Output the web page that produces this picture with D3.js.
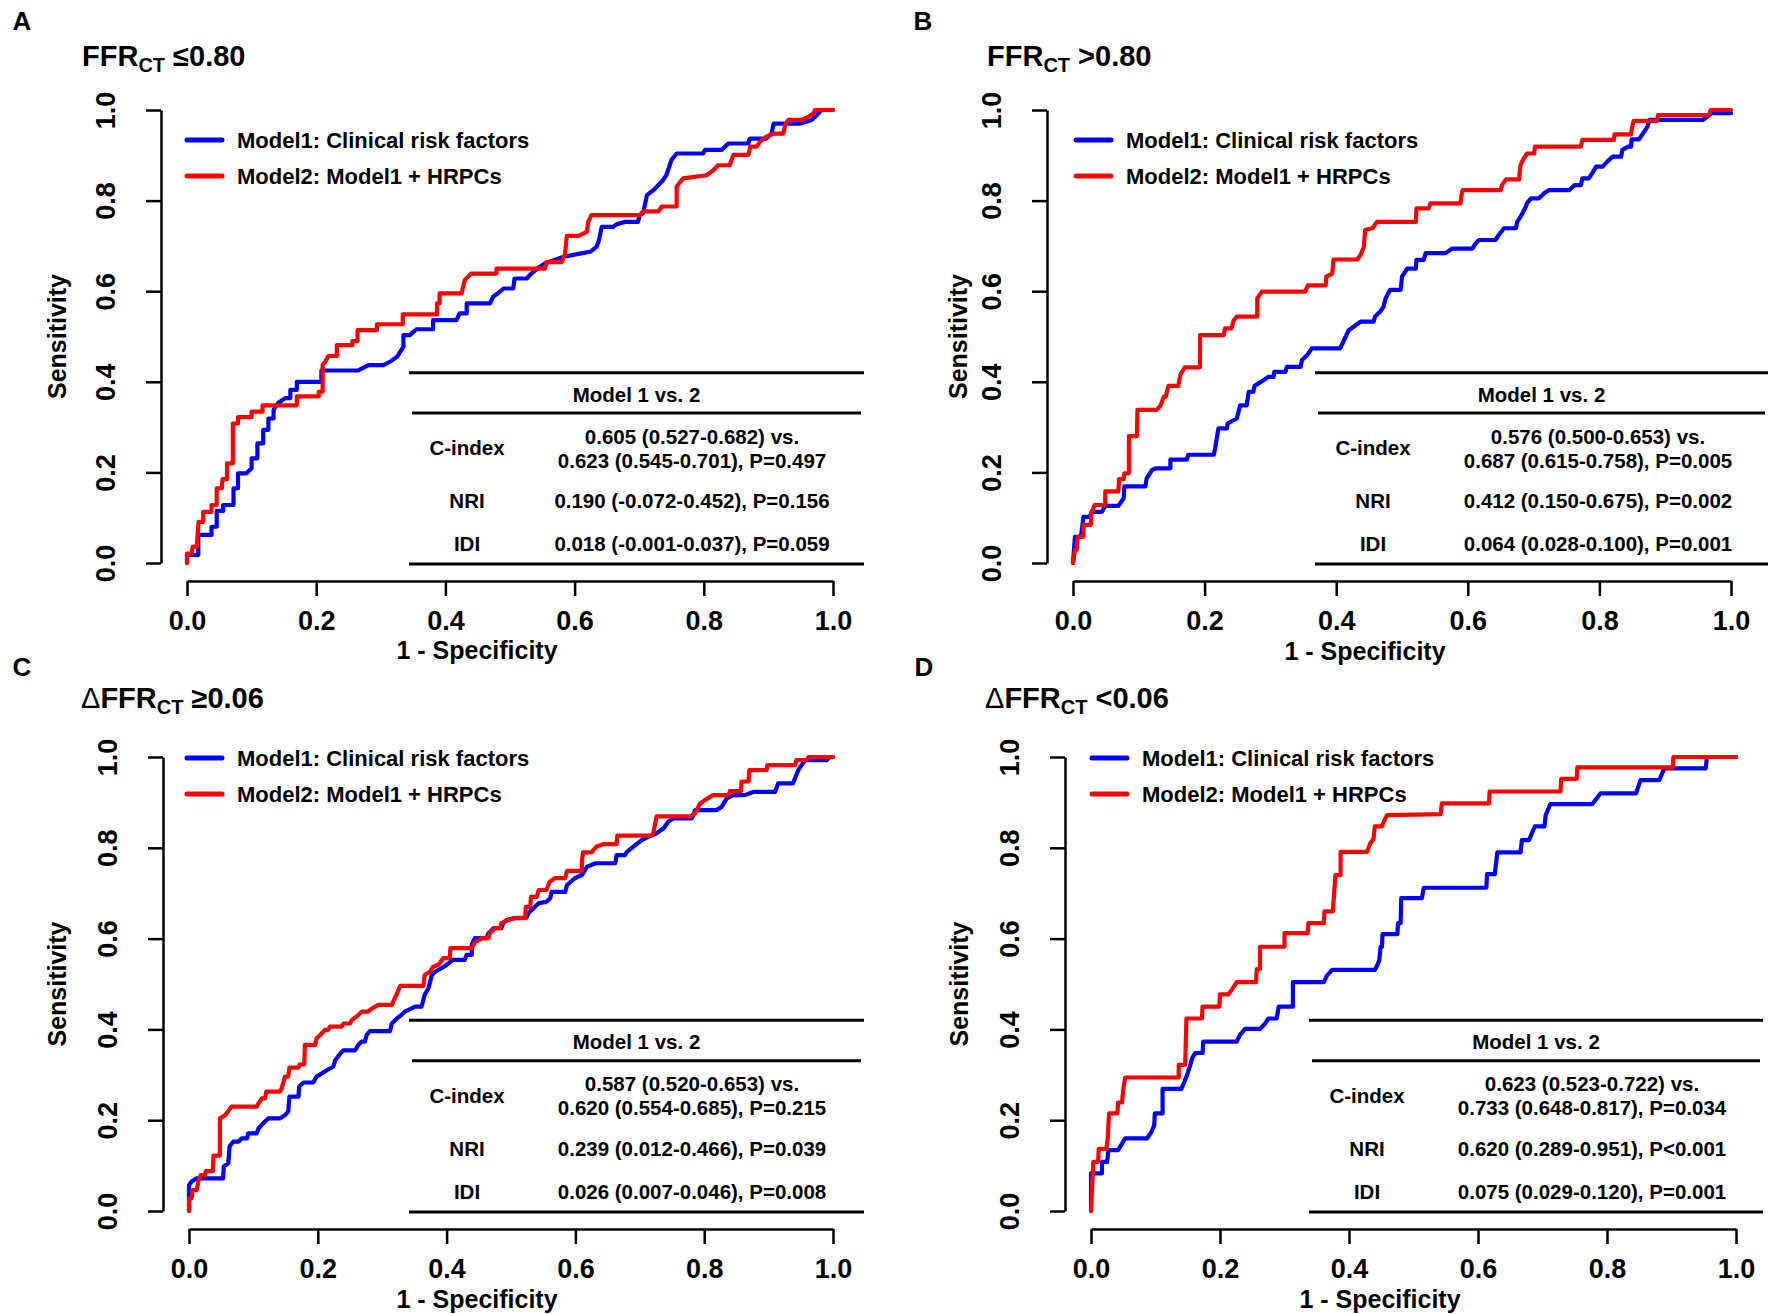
<!DOCTYPE html>
<html>
<head>
<meta charset="utf-8">
<script src="https://cdn.jsdelivr.net/npm/d3@7"></script>
<style>
  body { margin: 0; background: #fff; }
  text { font-family: "Liberation Sans", Arial, sans-serif; font-weight: bold; fill: #000; white-space: pre; }
</style>
</head>
<body>
<svg id="chart" width="1772" height="1314"></svg>
<script>
// axis ticks, shared by every panel
const tickValues = [0, 0.2, 0.4, 0.6, 0.8, 1.0];
const tickLabels = ["0.0", "0.2", "0.4", "0.6", "0.8", "1.0"];

const seriesNames = ["Model1: Clinical risk factors", "Model2: Model1 + HRPCs"];
const seriesColors = ["#0000ff", "#ff0000"];
const rowNames = ["C-index", "NRI", "IDI"];
const tableHeader = "Model 1 vs. 2";

const panelLetters = ["A", "B", "C", "D"];
const titlePrefix = ["", "", "\u0394", "\u0394"];
const titleSuffix = [" \u22640.80", " >0.80", " \u22650.06", " <0.06"];

// table texts: C-index (2 lines), NRI, IDI
const statsA = ["0.605 (0.527-0.682) vs.", "0.623 (0.545-0.701), P=0.497", "0.190 (-0.072-0.452), P=0.156", "0.018 (-0.001-0.037), P=0.059"];
const statsB = ["0.576 (0.500-0.653) vs.", "0.687 (0.615-0.758), P=0.005", "0.412 (0.150-0.675), P=0.002", "0.064 (0.028-0.100), P=0.001"];
const statsC = ["0.587 (0.520-0.653) vs.", "0.620 (0.554-0.685), P=0.215", "0.239 (0.012-0.466), P=0.039", "0.026 (0.007-0.046), P=0.008"];
const statsD = ["0.623 (0.523-0.722) vs.", "0.733 (0.648-0.817), P=0.034", "0.620 (0.289-0.951), P<0.001", "0.075 (0.029-0.120), P=0.001"];

// ROC curves, [1 - specificity, sensitivity]
const rocA1 = [[0,0],[0,0.018],[0.0175,0.018],[0.0175,0.062],[0.038,0.062],[0.038,0.080],[0.046,0.080],[0.046,0.115],[0.056,0.115],[0.056,0.128],[0.072,0.128],[0.072,0.165],[0.079,0.165],[0.079,0.198],[0.092,0.198],[0.100,0.209],[0.100,0.231],[0.109,0.231],[0.109,0.264],[0.118,0.264],[0.118,0.294],[0.126,0.294],[0.126,0.319],[0.134,0.319],[0.134,0.338],[0.141,0.353],[0.152,0.364],[0.160,0.364],[0.160,0.382],[0.170,0.382],[0.170,0.400],[0.208,0.400],[0.208,0.425],[0.265,0.425],[0.281,0.437],[0.304,0.437],[0.314,0.444],[0.325,0.455],[0.335,0.477],[0.335,0.503],[0.345,0.503],[0.355,0.516],[0.381,0.516],[0.381,0.536],[0.417,0.536],[0.422,0.551],[0.433,0.551],[0.433,0.573],[0.469,0.573],[0.474,0.588],[0.482,0.596],[0.490,0.606],[0.505,0.606],[0.507,0.628],[0.526,0.628],[0.533,0.639],[0.546,0.654],[0.554,0.661],[0.583,0.676],[0.608,0.683],[0.624,0.687],[0.634,0.698],[0.637,0.709],[0.642,0.742],[0.660,0.742],[0.665,0.748],[0.678,0.753],[0.698,0.753],[0.701,0.768],[0.706,0.772],[0.712,0.812],[0.722,0.823],[0.737,0.845],[0.742,0.856],[0.750,0.890],[0.758,0.904],[0.799,0.904],[0.802,0.912],[0.828,0.912],[0.838,0.926],[0.869,0.926],[0.871,0.937],[0.897,0.937],[0.905,0.948],[0.908,0.970],[0.949,0.970],[0.967,0.978],[0.975,0.989],[0.982,1.0],[1.0,1.0]];
const rocA2 = [[0,0],[0,0.021],[0.007,0.021],[0.009,0.036],[0.015,0.036],[0.018,0.091],[0.025,0.091],[0.025,0.113],[0.038,0.113],[0.038,0.128],[0.046,0.128],[0.046,0.165],[0.054,0.165],[0.055,0.185],[0.062,0.185],[0.062,0.220],[0.071,0.220],[0.071,0.308],[0.079,0.308],[0.079,0.322],[0.100,0.322],[0.100,0.334],[0.117,0.334],[0.117,0.348],[0.170,0.348],[0.170,0.368],[0.204,0.368],[0.204,0.378],[0.210,0.378],[0.210,0.437],[0.214,0.444],[0.219,0.457],[0.232,0.457],[0.232,0.481],[0.256,0.481],[0.256,0.490],[0.264,0.490],[0.264,0.514],[0.294,0.514],[0.294,0.527],[0.334,0.527],[0.334,0.549],[0.387,0.549],[0.387,0.573],[0.391,0.573],[0.391,0.595],[0.425,0.595],[0.430,0.625],[0.440,0.639],[0.479,0.639],[0.479,0.650],[0.554,0.650],[0.557,0.664],[0.580,0.664],[0.585,0.680],[0.588,0.722],[0.606,0.722],[0.619,0.731],[0.621,0.753],[0.626,0.768],[0.701,0.768],[0.706,0.776],[0.730,0.776],[0.735,0.787],[0.758,0.787],[0.758,0.831],[0.768,0.849],[0.804,0.856],[0.815,0.867],[0.822,0.878],[0.840,0.878],[0.846,0.901],[0.869,0.901],[0.872,0.919],[0.882,0.919],[0.887,0.930],[0.897,0.941],[0.908,0.948],[0.923,0.948],[0.926,0.967],[0.931,0.978],[0.951,0.978],[0.962,0.985],[0.970,0.993],[0.972,1.0],[1.0,1.0]];

const rocB1 = [[0,0],[0.003,0.058],[0.012,0.058],[0.016,0.102],[0.026,0.102],[0.028,0.113],[0.044,0.113],[0.049,0.126],[0.069,0.126],[0.077,0.143],[0.078,0.169],[0.110,0.169],[0.112,0.187],[0.120,0.205],[0.125,0.209],[0.148,0.209],[0.148,0.228],[0.173,0.228],[0.175,0.239],[0.214,0.239],[0.216,0.253],[0.221,0.297],[0.234,0.297],[0.235,0.308],[0.249,0.319],[0.254,0.348],[0.264,0.348],[0.267,0.378],[0.274,0.378],[0.276,0.391],[0.290,0.404],[0.297,0.411],[0.305,0.411],[0.306,0.422],[0.323,0.422],[0.325,0.433],[0.346,0.433],[0.348,0.448],[0.356,0.459],[0.363,0.474],[0.406,0.474],[0.411,0.489],[0.419,0.514],[0.427,0.522],[0.437,0.533],[0.457,0.533],[0.459,0.544],[0.467,0.555],[0.472,0.566],[0.475,0.584],[0.482,0.603],[0.498,0.603],[0.500,0.632],[0.508,0.650],[0.521,0.650],[0.522,0.669],[0.533,0.669],[0.536,0.684],[0.566,0.684],[0.576,0.694],[0.607,0.694],[0.612,0.706],[0.617,0.713],[0.642,0.713],[0.647,0.724],[0.655,0.739],[0.673,0.739],[0.675,0.753],[0.680,0.764],[0.688,0.786],[0.690,0.794],[0.696,0.805],[0.708,0.805],[0.716,0.816],[0.723,0.823],[0.754,0.823],[0.762,0.834],[0.772,0.834],[0.774,0.849],[0.784,0.849],[0.789,0.860],[0.795,0.875],[0.805,0.875],[0.812,0.886],[0.820,0.897],[0.833,0.897],[0.835,0.912],[0.843,0.919],[0.848,0.919],[0.849,0.935],[0.860,0.935],[0.866,0.948],[0.873,0.963],[0.876,0.978],[0.957,0.978],[0.964,0.985],[0.970,0.993],[1.0,0.993]];
const rocB2 = [[0,0],[0.003,0.029],[0.0056,0.029],[0.007,0.058],[0.016,0.058],[0.016,0.084],[0.027,0.084],[0.028,0.110],[0.033,0.128],[0.049,0.128],[0.049,0.158],[0.069,0.158],[0.070,0.185],[0.077,0.185],[0.078,0.198],[0.085,0.198],[0.085,0.280],[0.097,0.280],[0.098,0.338],[0.127,0.338],[0.133,0.347],[0.138,0.367],[0.141,0.367],[0.145,0.391],[0.160,0.391],[0.163,0.415],[0.170,0.432],[0.193,0.432],[0.193,0.503],[0.229,0.503],[0.231,0.518],[0.241,0.518],[0.244,0.535],[0.249,0.544],[0.280,0.544],[0.280,0.584],[0.287,0.599],[0.353,0.599],[0.357,0.613],[0.384,0.613],[0.385,0.632],[0.394,0.639],[0.396,0.670],[0.432,0.670],[0.437,0.680],[0.442,0.698],[0.444,0.735],[0.455,0.739],[0.462,0.753],[0.521,0.753],[0.522,0.783],[0.541,0.783],[0.543,0.794],[0.589,0.794],[0.590,0.809],[0.592,0.823],[0.650,0.823],[0.652,0.834],[0.658,0.847],[0.678,0.847],[0.680,0.878],[0.685,0.893],[0.690,0.904],[0.701,0.904],[0.702,0.919],[0.772,0.919],[0.774,0.934],[0.822,0.934],[0.823,0.946],[0.848,0.946],[0.850,0.963],[0.852,0.976],[0.888,0.976],[0.889,0.989],[0.967,0.989],[0.969,1.0],[1.0,1.0]];

const rocC1 = [[0,0],[0,0.057],[0.004,0.065],[0.012,0.072],[0.053,0.072],[0.054,0.098],[0.061,0.105],[0.063,0.142],[0.069,0.153],[0.077,0.153],[0.082,0.160],[0.090,0.160],[0.092,0.171],[0.105,0.171],[0.108,0.182],[0.115,0.193],[0.123,0.204],[0.141,0.204],[0.149,0.211],[0.154,0.219],[0.156,0.252],[0.170,0.252],[0.171,0.274],[0.178,0.283],[0.193,0.283],[0.198,0.296],[0.206,0.303],[0.214,0.310],[0.224,0.318],[0.227,0.332],[0.235,0.347],[0.240,0.354],[0.258,0.354],[0.263,0.366],[0.268,0.373],[0.273,0.373],[0.276,0.388],[0.281,0.396],[0.312,0.396],[0.315,0.413],[0.322,0.423],[0.330,0.432],[0.335,0.439],[0.341,0.443],[0.351,0.450],[0.361,0.450],[0.366,0.476],[0.372,0.491],[0.377,0.520],[0.382,0.527],[0.390,0.533],[0.400,0.542],[0.410,0.553],[0.428,0.553],[0.431,0.564],[0.439,0.564],[0.439,0.586],[0.444,0.601],[0.462,0.601],[0.465,0.612],[0.473,0.623],[0.485,0.623],[0.488,0.634],[0.493,0.641],[0.504,0.645],[0.524,0.646],[0.527,0.656],[0.535,0.667],[0.543,0.678],[0.555,0.681],[0.561,0.689],[0.563,0.703],[0.584,0.703],[0.587,0.718],[0.599,0.733],[0.610,0.740],[0.618,0.758],[0.631,0.766],[0.662,0.766],[0.664,0.784],[0.677,0.784],[0.680,0.791],[0.693,0.806],[0.703,0.817],[0.713,0.824],[0.726,0.832],[0.737,0.843],[0.744,0.857],[0.752,0.865],[0.781,0.865],[0.786,0.883],[0.819,0.883],[0.827,0.890],[0.835,0.909],[0.845,0.916],[0.863,0.916],[0.876,0.923],[0.910,0.923],[0.915,0.942],[0.938,0.942],[0.941,0.953],[0.946,0.971],[0.951,0.982],[0.957,0.993],[0.990,0.993],[0.995,1.0],[1.0,1.0]];
const rocC2 = [[0,0],[0.0005,0.028],[0.004,0.028],[0.0057,0.046],[0.012,0.046],[0.015,0.068],[0.018,0.079],[0.025,0.079],[0.026,0.088],[0.037,0.088],[0.038,0.122],[0.048,0.122],[0.048,0.204],[0.056,0.211],[0.061,0.220],[0.066,0.230],[0.105,0.230],[0.108,0.237],[0.113,0.248],[0.118,0.248],[0.120,0.263],[0.141,0.263],[0.144,0.270],[0.149,0.296],[0.154,0.296],[0.156,0.316],[0.170,0.316],[0.172,0.323],[0.179,0.323],[0.180,0.366],[0.196,0.366],[0.198,0.380],[0.206,0.391],[0.211,0.399],[0.216,0.399],[0.219,0.406],[0.237,0.406],[0.240,0.413],[0.250,0.413],[0.253,0.421],[0.260,0.428],[0.268,0.439],[0.278,0.439],[0.284,0.446],[0.294,0.454],[0.315,0.454],[0.317,0.461],[0.322,0.476],[0.328,0.496],[0.364,0.496],[0.366,0.520],[0.374,0.527],[0.379,0.538],[0.387,0.542],[0.395,0.557],[0.405,0.557],[0.406,0.579],[0.439,0.579],[0.444,0.592],[0.455,0.601],[0.465,0.601],[0.467,0.612],[0.475,0.623],[0.483,0.623],[0.485,0.634],[0.496,0.641],[0.506,0.645],[0.522,0.645],[0.523,0.670],[0.530,0.670],[0.531,0.692],[0.540,0.692],[0.543,0.707],[0.555,0.707],[0.560,0.725],[0.568,0.733],[0.584,0.733],[0.587,0.749],[0.610,0.749],[0.610,0.769],[0.612,0.790],[0.625,0.790],[0.633,0.803],[0.643,0.808],[0.664,0.808],[0.665,0.827],[0.718,0.827],[0.721,0.832],[0.726,0.869],[0.778,0.869],[0.786,0.876],[0.793,0.896],[0.801,0.905],[0.814,0.916],[0.838,0.916],[0.840,0.925],[0.857,0.925],[0.858,0.946],[0.869,0.946],[0.870,0.971],[0.897,0.971],[0.898,0.982],[0.941,0.982],[0.943,0.993],[0.959,0.993],[0.962,1.0],[1.0,1.0]];

const rocD1 = [[0,0],[0,0.083],[0.017,0.083],[0.017,0.108],[0.025,0.108],[0.027,0.134],[0.042,0.134],[0.053,0.160],[0.087,0.160],[0.094,0.175],[0.098,0.189],[0.099,0.215],[0.111,0.215],[0.111,0.269],[0.140,0.269],[0.145,0.285],[0.149,0.300],[0.154,0.322],[0.157,0.337],[0.162,0.348],[0.173,0.348],[0.174,0.373],[0.226,0.373],[0.231,0.388],[0.239,0.401],[0.262,0.401],[0.270,0.413],[0.275,0.424],[0.288,0.424],[0.291,0.450],[0.313,0.450],[0.313,0.504],[0.361,0.504],[0.366,0.519],[0.374,0.531],[0.440,0.531],[0.444,0.542],[0.447,0.553],[0.449,0.582],[0.451,0.582],[0.452,0.610],[0.475,0.610],[0.476,0.634],[0.480,0.634],[0.481,0.689],[0.513,0.689],[0.516,0.712],[0.613,0.712],[0.614,0.742],[0.626,0.742],[0.630,0.790],[0.666,0.790],[0.668,0.817],[0.679,0.817],[0.688,0.847],[0.703,0.847],[0.705,0.872],[0.712,0.896],[0.777,0.896],[0.790,0.920],[0.845,0.920],[0.852,0.949],[0.881,0.949],[0.889,0.975],[0.953,0.975],[0.955,1.0],[1.0,1.0]];
const rocD2 = [[0,0],[0.0036,0.108],[0.011,0.108],[0.012,0.137],[0.024,0.137],[0.026,0.162],[0.028,0.215],[0.041,0.215],[0.042,0.239],[0.048,0.239],[0.050,0.267],[0.053,0.294],[0.136,0.294],[0.136,0.322],[0.146,0.322],[0.148,0.424],[0.172,0.424],[0.173,0.450],[0.199,0.450],[0.200,0.477],[0.213,0.477],[0.218,0.487],[0.226,0.504],[0.256,0.504],[0.257,0.533],[0.262,0.533],[0.262,0.582],[0.300,0.582],[0.300,0.612],[0.336,0.612],[0.337,0.634],[0.361,0.634],[0.362,0.660],[0.375,0.660],[0.376,0.681],[0.379,0.740],[0.387,0.740],[0.387,0.791],[0.428,0.791],[0.433,0.810],[0.438,0.819],[0.440,0.847],[0.451,0.847],[0.454,0.858],[0.459,0.872],[0.542,0.874],[0.544,0.898],[0.617,0.898],[0.618,0.924],[0.728,0.924],[0.729,0.952],[0.753,0.952],[0.754,0.977],[0.902,0.977],[0.903,1.0],[1.0,1.0]];

const panelCurves = [[rocA1, rocA2], [rocB1, rocB2], [rocC1, rocC2], [rocD1, rocD2]];
const panelStats = [statsA, statsB, statsC, statsD];

// page layout of the four panels (pixels)
const layout = [
  { lx: 22, ly: 21, tx: 82, ty: 66, xr: [187, 833], yr: [563, 110], ax: 161, ay: 581, sensX: 57, specX: 477, specY: 650, legX: 187, legY: 140, tbl: [409, 864] },
  { lx: 923, ly: 21, tx: 987, ty: 66, xr: [1073, 1731], yr: [563, 110], ax: 1047, ay: 581, sensX: 958, specX: 1365, specY: 651, legX: 1076, legY: 140, tbl: [1315, 1768] },
  { lx: 22, ly: 667, tx: 81, ty: 708, xr: [189, 833], yr: [1211, 757], ax: 163, ay: 1229, sensX: 57, specX: 477, specY: 1299, legX: 187, legY: 758, tbl: [409, 864] },
  { lx: 924, ly: 667, tx: 985, ty: 708, xr: [1091, 1736], yr: [1211, 757], ax: 1065, ay: 1229, sensX: 959, specX: 1380, specY: 1299, legX: 1092, legY: 758, tbl: [1309, 1763] }
];

let svg = d3.select("#chart");
svg.append("rect").attr("width", 1772).attr("height", 1314).attr("fill", "#fff");

function drawPanel(i) {
  let p = layout[i];
  let g = svg.append("g");
  let x = d3.scaleLinear().domain([0, 1]).range(p.xr);
  let y = d3.scaleLinear().domain([0, 1]).range(p.yr);

  //panel letter
  g.append("text")
    .attr("x", p.lx).attr("y", p.ly)
    .attr("text-anchor", "middle").attr("dominant-baseline", "central")
    .style("font-size", "26px")
    .text(panelLetters[i]);

  //title with subscript
  let t = g.append("text").attr("x", p.tx).attr("y", p.ty).style("font-size", "29px");
  if (titlePrefix[i]) t.append("tspan").style("font-weight", "normal").text(titlePrefix[i]);
  t.append("tspan").text("FFR");
  t.append("tspan").attr("dy", 6).style("font-size", "20px").text("CT");
  t.append("tspan").attr("dy", -6).text(titleSuffix[i]);

  //y axis
  let ya = g.append("g")
    .attr("transform", "translate(" + p.ax + ",0)")
    .call(d3.axisLeft(y).tickValues(tickValues).tickFormat((v, k) => tickLabels[k]).tickSize(15).tickSizeOuter(0));
  ya.select(".domain").attr("stroke-width", 2.5);
  ya.selectAll(".tick line").attr("stroke-width", 2.5);
  ya.selectAll(".tick text")
    .attr("x", null).attr("dy", null)
    .attr("transform", "translate(-55,0) rotate(-90)")
    .attr("text-anchor", "middle").attr("dominant-baseline", "central")
    .style("font-size", "27px");

  //x axis
  let xa = g.append("g")
    .attr("transform", "translate(0," + p.ay + ")")
    .call(d3.axisBottom(x).tickValues(tickValues).tickFormat((v, k) => tickLabels[k]).tickSize(15).tickSizeOuter(0));
  xa.select(".domain").attr("stroke-width", 2.5);
  xa.selectAll(".tick line").attr("stroke-width", 2.5);
  xa.selectAll(".tick text")
    .attr("y", 40).attr("dy", null)
    .attr("dominant-baseline", "central")
    .style("font-size", "27px");

  //axis titles
  g.append("text")
    .attr("transform", "translate(" + p.sensX + "," + ((p.yr[0] + p.yr[1]) / 2) + ") rotate(-90)")
    .attr("text-anchor", "middle").attr("dominant-baseline", "central")
    .style("font-size", "25px")
    .text("Sensitivity");
  g.append("text")
    .attr("x", p.specX).attr("y", p.specY)
    .attr("text-anchor", "middle").attr("dominant-baseline", "central")
    .style("font-size", "25px")
    .text("1 - Specificity");

  //comparison table
  let tl = p.tbl[0], tr = p.tbl[1];
  let rule = (yy, inset) => g.append("line")
    .attr("x1", tl + inset).attr("x2", tr - inset)
    .attr("y1", yy).attr("y2", yy)
    .attr("stroke", "#000").attr("stroke-width", 3);
  rule(y(0.42), 0);
  rule(y(0.331), 3);
  rule(y(-0.002), 0);
  let cell = (xx, yy, s) => g.append("text")
    .attr("x", xx).attr("y", yy)
    .attr("text-anchor", "middle").attr("dominant-baseline", "central")
    .style("font-size", "20.5px")
    .text(s);
  let stats = panelStats[i];
  cell((tl + tr) / 2, y(0.373), tableHeader);
  cell(tl + 58, y(0.254), rowNames[0]);
  cell(tl + 283, y(0.280), stats[0]);
  cell(tl + 283, y(0.227), stats[1]);
  cell(tl + 58, y(0.137), rowNames[1]);
  cell(tl + 283, y(0.137), stats[2]);
  cell(tl + 58, y(0.044), rowNames[2]);
  cell(tl + 283, y(0.044), stats[3]);

  //ROC curves
  let line = d3.line().x(v => x(v[0])).y(v => y(v[1]));
  panelCurves[i].forEach((c, k) => {
    g.append("path")
      .datum(c)
      .attr("d", line)
      .attr("fill", "none")
      .attr("stroke", seriesColors[k])
      .attr("stroke-width", 4.2)
      .attr("stroke-linejoin", "round")
      .attr("stroke-linecap", "round");
  });

  //legend
  seriesNames.forEach((s, k) => {
    let ly = p.legY + k * 36;
    g.append("line")
      .attr("x1", p.legX).attr("x2", p.legX + 35)
      .attr("y1", ly).attr("y2", ly)
      .attr("stroke", seriesColors[k]).attr("stroke-width", 5)
      .attr("stroke-linecap", "round");
    g.append("text")
      .attr("x", p.legX + 50).attr("y", ly)
      .attr("dominant-baseline", "central")
      .style("font-size", "22px")
      .text(s);
  });
}

for (let i = 0; i < 4; i++) drawPanel(i);
</script>
</body>
</html>
